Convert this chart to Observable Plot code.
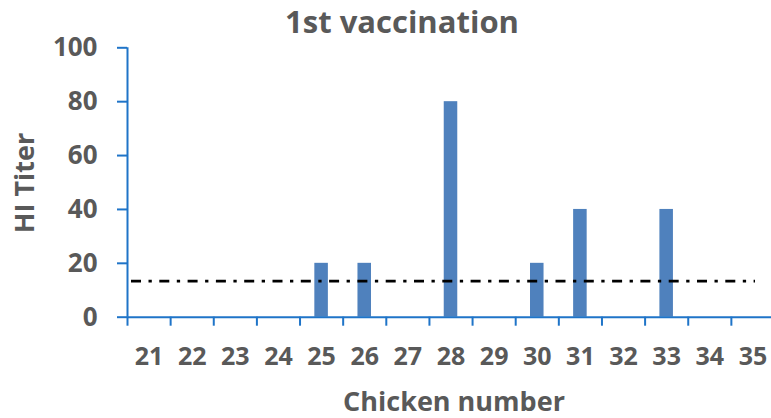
<!DOCTYPE html>
<html>
<head>
<meta charset="utf-8">
<script src="https://cdn.jsdelivr.net/npm/d3@7"></script>
<script src="https://cdn.jsdelivr.net/npm/@observablehq/plot@0.6"></script>
<style>
  html, body { margin: 0; padding: 0; background: #fff; }
  #wrap { position: relative; width: 771px; height: 418px; overflow: hidden; font-family: "Open Sans", sans-serif; font-weight: 700; color: #595959; }
  .lbl { position: absolute; line-height: 1; white-space: nowrap; }
  #title { font-size: 31px; left: 402px; top: 6px; transform: translateX(-50%); }
  #ylab { font-size: 27px; left: 23px; top: 183px; transform: translate(-50%, -50%) rotate(-90deg); }
  #xlab { font-size: 27px; left: 454px; top: 387px; transform: translateX(-50%); }
</style>
</head>
<body>
<div id="wrap">
  <div id="chart"></div>
  <div class="lbl" id="title">1st vaccination</div>
  <div class="lbl" id="ylab">HI Titer</div>
  <div class="lbl" id="xlab">Chicken number</div>
</div>
<script>
const chickens = [21, 22, 23, 24, 25, 26, 27, 28, 29, 30, 31, 32, 33, 34, 35];
const titers   = [0, 0, 0, 0, 20, 20, 0, 80, 0, 20, 40, 0, 40, 0, 0];
const yTicks = [0, 20, 40, 60, 80, 100];
const threshold = 13.4;

const data = chickens.map((n, i) => ({n, titer: titers[i]}));
const xMin = chickens[0] - 0.5, xMax = chickens[chickens.length - 1] + 0.5;
const boundaries = [xMin, ...chickens.map(n => n + 0.5)];

const axisBlue = "#1F74C8";
const textGray = "#595959";
const font = "Open Sans";

const chart = Plot.plot({
  width: 771,
  height: 418,
  marginTop: 47.3,
  marginBottom: 101.3,
  marginLeft: 127,
  marginRight: -3,
  style: {fontFamily: font, fontWeight: 700, background: "transparent", overflow: "visible"},
  x: {type: "linear", domain: [xMin, xMax]},
  y: {domain: [0, 100]},
  marks: [
    Plot.rectY(data.filter(d => d.titer > 0), {
      x1: d => d.n - 0.5, x2: d => d.n + 0.5, y: "titer",
      insetLeft: 14.8, insetRight: 14.8, fill: "#4F81BD"
    }),
    Plot.ruleY([threshold], {
      insetLeft: 4, insetRight: 19, stroke: "black", strokeWidth: 2.6,
      strokeDasharray: "10,7.5,3.3,7.5"
    }),
    Plot.ruleY([0], {stroke: axisBlue, strokeWidth: 2}),
    Plot.ruleX([xMin], {stroke: axisBlue, strokeWidth: 2}),
    Plot.axisY(yTicks, {
      tickSize: 10, tickPadding: 20, stroke: axisBlue, strokeWidth: 2,
      fill: textGray, fontSize: 26, fontWeight: 700, fontFamily: font, label: null
    }),
    Plot.axisX(boundaries, {
      tickSize: 9, stroke: axisBlue, strokeWidth: 2, fill: "none", label: null
    }),
    Plot.axisX(chickens, {
      tickSize: 0, tickPadding: 30, fill: textGray, fontSize: 25, fontWeight: 700,
      fontFamily: font, tickFormat: d => String(d), label: null
    })
  ]
});
document.getElementById("chart").appendChild(chart);
</script>
</body>
</html>
